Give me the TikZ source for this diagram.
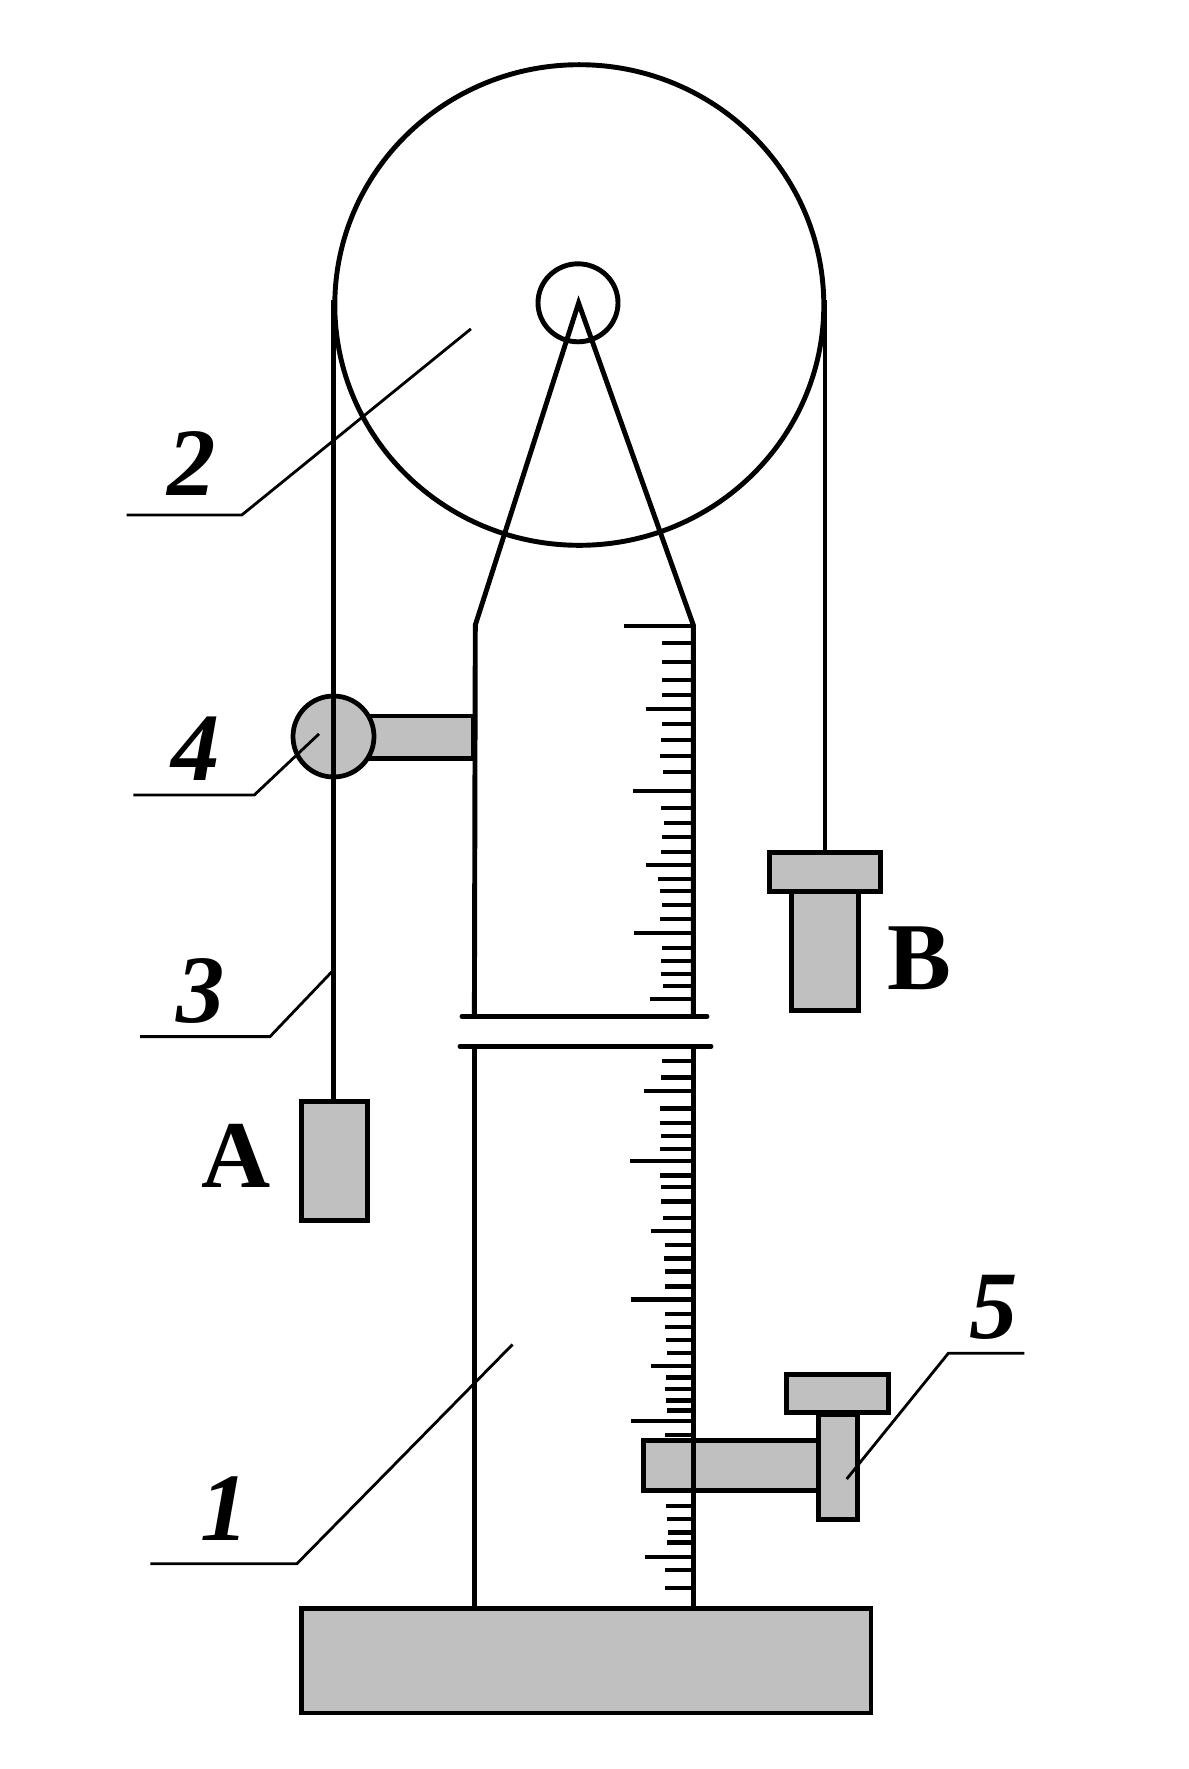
\documentclass[tikz,border=0pt]{standalone}
\usepackage{fontspec}
\setmainfont{Liberation Serif}
\definecolor{partgray}{HTML}{C0C0C0}
\tikzset{
  part/.style={draw=black,fill=partgray,line width=2.7pt},
  wall/.style={draw=black,line width=2.8pt},
  cord/.style={draw=black,line width=2.6pt},
  tick/.style={draw=black,line width=2.3pt},
  leader/.style={draw=black,line width=1.6pt},
  number/.style={anchor=base,inner sep=0pt,font=\fontsize{55}{60}\selectfont\bfseries\itshape},
  letter/.style={anchor=base,inner sep=0pt,font=\fontsize{54.5}{60}\selectfont\bfseries}
}
\begin{document}
\begin{tikzpicture}[x=0.02cm,y=-0.02cm]
\useasboundingbox (0,0) rectangle (1188,1769);

% pulley
\draw [wall] (579.3,305) ellipse [x radius=244.5,y radius=240.3];
\draw [wall] (578,302.8) ellipse [x radius=40,y radius=39];

% cords
\draw [cord] (333.3,300) -- (333.3,1100);
\draw [cord] (825.2,300) -- (825.2,852);

% arm and clamp behind the scale
\draw [part] (370,715.9) rectangle (473,758.4);
\draw [part] (643.3,1440.3) rectangle (818,1490.3);

% stand
\draw [wall] (474.4,1016.3) -- (475.3,625) -- (578.6,303) -- (693.3,625) -- (693.3,1016.3);
\draw [wall] (474.4,1046.3) -- (474.4,1609);
\draw [wall] (693.3,1046.3) -- (693.3,1609);
\draw [wall,line cap=round] (462,1016.3) -- (707,1016.3);
\draw [wall,line cap=round] (460,1046.3) -- (711,1046.3);

% scale
\foreach \ty/\tx in {626.3/624.3,643.3/661.7,662.3/662,680.3/662.3,695.3/662.3,709.3/645.7,
  724.3/662.3,740.3/661.3,756.3/660.3,772.3/663.3,791.3/632.7,808.3/661.3,823.3/664.3,
  837.3/662.3,852.3/661.3,865.3/645.7,879.3/658.3,891.3/660.3,905.3/662.3,919.3/660.3,
  933.3/634.3,948.3/662.3,961.3/661.3,974.3/661.3,986.3/663.3,999.3/650.3,
  1061.4/662,1077.5/661,1091.3/644.3,1108.5/660,1122.7/660,1136.4/661,1148.7/660,
  1160.9/630.3,1175.5/660.3,1187.3/661.3,1201.5/661.3,1217.6/663.3,1231.4/651.3,
  1244.7/665.3,1258.5/664.3,1271.5/665.3,1286.5/665.3,1299.5/631.3,1313.6/665.3,
  1326.6/665.3,1339.7/666.3,1352.7/667.3,1365.7/651.3,1377.5/666.3,1389.4/665.3,
  1400.5/666.3,1410.5/667.3,1421.2/631.3,1434.6/665.3,1505.7/666.3,1519.1/667.3,
  1532.5/668.3,1542.5/667.3,1556.6/645.3,1570.4/665.3,1587.6/665.3}
  \draw [tick] (\tx,\ty) -- (693.3,\ty);

% base, weights, knob
\draw [part] (301.8,1608.3) rectangle (871,1713);
\draw [part] (301.6,1101.6) rectangle (367.7,1220.3);
\draw [part] (791.8,891.4) rectangle (858.2,1010.4);
\draw [part] (769.8,852.3) rectangle (880.2,891.4);
\draw [part] (333.5,736.5) circle [radius=40.5];
\draw [cord] (333.3,694) -- (333.3,780);

% screw 5
\draw [part] (818.3,1415) rectangle (857.7,1519.7);
\draw [part] (786.3,1374.6) rectangle (888.4,1412.7);

% leaders
\draw [leader] (470.9,328.9) -- (241.8,515) -- (126.5,515);
\draw [leader] (319,733.9) -- (254.3,795) -- (133.3,795);
\draw [leader] (331.7,971.9) -- (270,1036.6) -- (140,1036.6);
\draw [leader] (512.6,1344.4) -- (296.8,1563.8) -- (150.4,1563.8);
\draw [leader] (846.7,1479) -- (948.3,1353.3) -- (1024.3,1353.3);

% labels
\node [number] (num2) at (191.5,495) {2};
\node [number] (num4) at (195.5,780) {4};
\node [number] (num3) at (201,1022.5) {3};
\node [number] (num1) at (225,1540) {1};
\node [number] (num5) at (993.8,1338) {5};
\node [letter] (loadA) at (236,1187) {A};
\node [letter] (loadB) at (919.5,989) {B};

\end{tikzpicture}
\end{document}
